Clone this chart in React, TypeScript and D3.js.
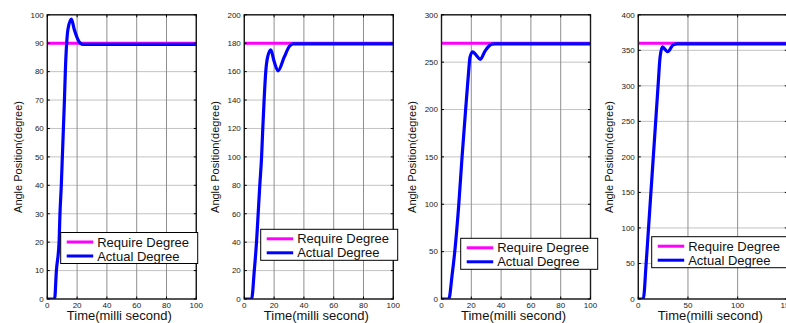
import React from "react";
import * as d3 from "d3";

// ---- Data ----
const requiredDegrees = [90, 180, 270, 360];
const timeMax = [100, 100, 100, 150];
const angleMax = [100, 200, 300, 400];
const timeTicks = [
  [0, 20, 40, 60, 80, 100],
  [0, 20, 40, 60, 80, 100],
  [0, 20, 40, 60, 80, 100],
  [0, 50, 100, 150],
];
const angleTicks = [
  [0, 10, 20, 30, 40, 50, 60, 70, 80, 90, 100],
  [0, 20, 40, 60, 80, 100, 120, 140, 160, 180, 200],
  [0, 50, 100, 150, 200, 250, 300],
  [0, 50, 100, 150, 200, 250, 300, 350, 400],
];
const actual90: [number, number][] = [
  [0, 0], [4.9, 0], [6.1, 10], [7.9, 20], [8.5, 30], [9.4, 40], [10.1, 50], [10.8, 60],
  [11.5, 70], [12.1, 80], [13, 90], [13.9, 95], [16.2, 98.5], [18, 95], [20, 92],
  [22.2, 90], [24, 89.6], [100, 89.6],
];
const actual180: [number, number][] = [
  [0, 0], [4.9, 0], [6.7, 20], [8.2, 40], [9.3, 60], [10.4, 80], [11.6, 100], [12.4, 120],
  [13.3, 140], [14.4, 160], [15.6, 170], [17.8, 175.4], [19.8, 168], [22.7, 160.5],
  [26.7, 170], [30.4, 178], [32.7, 179.6], [100, 179.6],
];
const actual270: [number, number][] = [
  [0, 0], [4.9, 0], [7.1, 25], [8.9, 50], [11.6, 100], [13.8, 150], [16.2, 200], [18.2, 240],
  [19.1, 255], [20.9, 261], [23, 258], [26, 253], [29.3, 262], [33.8, 269], [36, 269.3],
  [100, 269.3],
];
const actual360: [number, number][] = [
  [0, 0], [5, 0], [7.9, 50], [10.3, 100], [12.7, 150], [15.1, 200], [17.5, 250], [19.9, 300],
  [21.9, 340], [24.3, 355], [26.5, 352], [29.5, 348], [35.3, 358], [39.4, 359], [150, 359],
];
const actualSeries = [actual90, actual180, actual270, actual360];
const legendLabels = ["Require Degree", "Actual Degree"];
const xTitle = "Time(milli second)";
const yTitle = "Angle Position(degree)";

// ---- Layout ----
const W = 786;
const H = 323;
const lefts = [47.3, 244.3, 441.5, 638.3];
const plotW = 149;
const top = 14.8;
const bottom = 299;
const legends = [
  { x: 60.7, y: 232.5 },
  { x: 260.7, y: 229.3 },
  { x: 460.7, y: 238.3 },
  { x: 651.7, y: 236.7 },
];
const font = "'Liberation Sans', Arial, sans-serif";
const MAGENTA = "#ff00ff";
const BLUE = "#0000ff";

function Panel({ i }: { i: number }) {
  const left = lefts[i];
  const x = d3.scaleLinear().domain([0, timeMax[i]]).range([left, left + plotW]);
  const y = d3.scaleLinear().domain([0, angleMax[i]]).range([bottom, top]);
  const line = d3
    .line<[number, number]>()
    .x((d) => x(d[0]))
    .y((d) => y(d[1]))
    .curve(d3.curveMonotoneX);
  const reqData: [number, number][] = [
    [0, requiredDegrees[i]],
    [timeMax[i], requiredDegrees[i]],
  ];
  const clipId = `clip${i}`;
  const lg = legends[i];
  const tickLen = 2.5;
  return (
    <g>
      <defs>
        <clipPath id={clipId}>
          <rect x={left} y={top} width={plotW} height={bottom - top} />
        </clipPath>
      </defs>
      <rect x={left} y={top} width={plotW} height={bottom - top} fill="#fff" />
      {angleTicks[i].map((t) => (
        <line key={"h" + t} x1={left} x2={left + plotW} y1={y(t)} y2={y(t)} stroke="#b4b4b4" strokeWidth={0.8} />
      ))}
      {timeTicks[i].map((t) => (
        <line key={"v" + t} x1={x(t)} x2={x(t)} y1={top} y2={bottom} stroke="#8f8f8f" strokeWidth={1} />
      ))}
      <g clipPath={`url(#${clipId})`}>
        <path d={line(reqData) || ""} fill="none" stroke={MAGENTA} strokeWidth={3} />
        <path d={line(actualSeries[i]) || ""} fill="none" stroke={BLUE} strokeWidth={3.2} strokeLinejoin="round" />
      </g>
      <rect x={left} y={top} width={plotW} height={bottom - top} fill="none" stroke="#1a1a1a" strokeWidth={1.4} />
      {timeTicks[i].map((t) => (
        <g key={"xt" + t}>
          <line x1={x(t)} x2={x(t)} y1={bottom} y2={bottom - tickLen} stroke="#000" />
          <line x1={x(t)} x2={x(t)} y1={top} y2={top + tickLen} stroke="#000" />
          <text x={x(t)} y={308} fontSize={8} fontFamily={font} textAnchor="middle" fill="#222">
            {t}
          </text>
        </g>
      ))}
      {angleTicks[i].map((t) => (
        <g key={"yt" + t}>
          <line x1={left} x2={left + tickLen} y1={y(t)} y2={y(t)} stroke="#000" />
          <line x1={left + plotW} x2={left + plotW - tickLen} y1={y(t)} y2={y(t)} stroke="#000" />
          <text x={left - 3.5} y={y(t) + 2.8} fontSize={8} fontFamily={font} textAnchor="end" fill="#222">
            {t}
          </text>
        </g>
      ))}
      <text x={left + plotW / 2 - 2.5} y={320.3} fontSize={13} fontFamily={font} textAnchor="middle" fill="#111">
        {xTitle}
      </text>
      <text
        transform={`translate(${left - 25.5},157) rotate(-90)`}
        fontSize={11}
        fontFamily={font}
        textAnchor="middle"
        fill="#111"
      >
        {yTitle}
      </text>
      <rect x={lg.x} y={lg.y} width={137} height={31} fill="#fff" stroke="#000" strokeWidth={1} />
      {legendLabels.map((lab, k) => {
        const cy = lg.y + 9.5 + k * 14;
        return (
          <g key={lab}>
            <line x1={lg.x + 6} x2={lg.x + 32.5} y1={cy} y2={cy} stroke={k === 0 ? MAGENTA : BLUE} strokeWidth={3} />
            <text x={lg.x + 36.5} y={cy + 4.6} fontSize={13} fontFamily={font} fill="#111">
              {lab}
            </text>
          </g>
        );
      })}
    </g>
  );
}

export default function App() {
  return (
    <svg width={W} height={H} style={{ position: "absolute", left: 0, top: 0, background: "#fff" }}>
      <rect x={0} y={0} width={W} height={H} fill="#fff" />
      {[0, 1, 2, 3].map((i) => (
        <Panel key={i} i={i} />
      ))}
    </svg>
  );
}
